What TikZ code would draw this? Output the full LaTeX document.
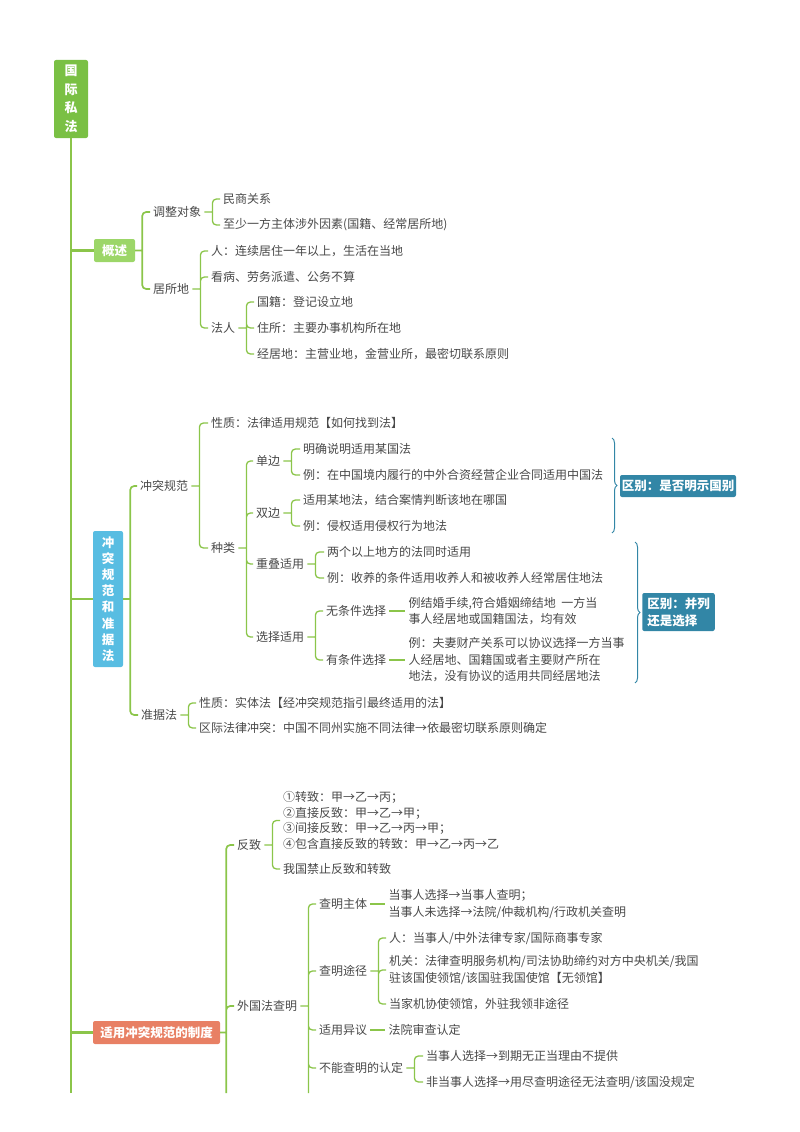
\documentclass[tikz,border=0pt]{standalone}
\usepackage{fontspec}
\setmainfont{Noto Sans CJK SC}
\usetikzlibrary{positioning,decorations.pathreplacing}
\definecolor{lgreen}{RGB}{139,197,74}
\definecolor{rootgreen}{RGB}{122,192,68}
\definecolor{leafgreen}{RGB}{156,214,104}
\definecolor{skyblue}{RGB}{88,189,226}
\definecolor{coral}{RGB}{232,128,100}
\definecolor{difteal}{RGB}{50,134,166}
\definecolor{txtgray}{RGB}{72,72,72}

\begin{document}
\begin{tikzpicture}[x=1pt, y=-1pt,
  txt/.style={anchor=west, inner xsep=3pt, inner ysep=1pt, text=txtgray,
              font=\fontsize{12}{16.5}\selectfont, align=left},
  box/.style={rounded corners=2pt, text=white, inner sep=0pt, align=center,
              font=\fontsize{12.5}{16.2}\selectfont\bfseries},
  diff/.style={box, fill=difteal, align=left},
  trunk/.style={draw=lgreen, line width=2.2pt},
  lnk1/.style={draw=lgreen, line width=1.7pt, rounded corners=4pt},
  lnk/.style={draw=lgreen, line width=1.3pt, rounded corners=4pt},
  brc/.style={draw=difteal, line width=1pt, decorate,
              decoration={brace, amplitude=5pt}}]
  \useasboundingbox (0,0) rectangle (800,1132);

  % root and main trunk
  \node[box, fill=rootgreen, minimum width=34pt, minimum height=78pt,
        font=\fontsize{13}{18.5}\selectfont\bfseries] (root) at (71,99) {国\\际\\私\\法};
  \coordinate (trunkend) at (71,1093);
  \draw[trunk] (root.south) -- (trunkend);

  % 概述
  \node[box, fill=leafgreen, minimum width=41pt, minimum height=23pt] (gs) at (114.5,250.5) {概述};
  \node[txt] (tz)  at (150,212) {调整对象};
  \node[txt] (jsd) at (150,289) {居所地};
  \node[txt] (ms)  at (220,199) {民商关系};
  \node[txt] (sw)  at (220,225) {至少一方主体涉外因素(国籍、经常居所地)};
  \node[txt] (ren) at (208,251) {人：连续居住一年以上，生活在当地};
  \node[txt] (kb)  at (208,277) {看病、劳务派遣、公务不算};
  \node[txt] (fr)  at (208,328) {法人};
  \node[txt] (gj)  at (254,302) {国籍：登记设立地};
  \node[txt] (zs)  at (254,328) {住所：主要办事机构所在地};
  \node[txt] (jj)  at (254,354) {经居地：主营业地，金营业所，最密切联系原则};

  \coordinate (jgs) at ([xshift=7pt]gs.east);
  \coordinate (jtz) at ([xshift=8pt]tz.east);
  \coordinate (jjsd) at ([xshift=8pt]jsd.east);
  \coordinate (jfr) at ([xshift=8pt]fr.east);
  \draw[trunk] (gs.west -| root.south) -- (gs.west);
  \draw[lnk1] (gs.east) -- (jgs) (jgs) |- (tz.west) (jgs) |- (jsd.west);
  \draw[lnk] (tz.east) -- (jtz) (jtz) |- (ms.west) (jtz) |- (sw.west);
  \draw[lnk] (jsd.east) -- (jjsd) (jjsd) |- (ren.west) (jjsd) |- (kb.west) (jjsd) |- (fr.west);
  \draw[lnk] (fr.east) -- (jfr) (jfr) |- (gj.west) (jfr) |- (zs.west) (jfr) |- (jj.west);

  % 冲突规范和准据法
  \node[box, fill=skyblue, minimum width=30pt, minimum height=136pt] (ct) at (108,599)
       {冲\\突\\规\\范\\和\\准\\据\\法};
  \node[txt] (ctgf) at (137,486) {冲突规范};
  \node[txt] (zjf)  at (138,715) {准据法};
  \node[txt] (xz1)  at (208,423) {性质：法律适用规范【如何找到法】};
  \node[txt] (zl)   at (208,548) {种类};
  \node[txt] (db)   at (253,461) {单边};
  \node[txt] (sb)   at (253,513) {双边};
  \node[txt] (cd)   at (253,564) {重叠适用};
  \node[txt] (xzsy) at (253,637) {选择适用};
  \node[txt] (db1)  at (300,449) {明确说明适用某国法};
  \node[txt] (db2)  at (300,475) {例：在中国境内履行的中外合资经营企业合同适用中国法};
  \node[txt] (sb1)  at (300,500) {适用某地法，结合案情判断该地在哪国};
  \node[txt] (sb2)  at (300,526) {例：侵权适用侵权行为地法};
  \node[txt] (cd1)  at (324,552) {两个以上地方的法同时适用};
  \node[txt] (cd2)  at (324,578) {例：收养的条件适用收养人和被收养人经常居住地法};
  \node[txt] (wtj)  at (323,611) {无条件选择};
  \node[txt] (ytj)  at (323,660) {有条件选择};
  \node[txt, right=16pt of wtj] (wtj1)
       {例结婚手续,符合婚姻缔结地\ \ 一方当\\事人经居地或国籍国法，均有效};
  \node[txt, right=16pt of ytj] (ytj1)
       {例：夫妻财产关系可以协议选择一方当事\\人经居地、国籍国或者主要财产所在\\地法，没有协议的适用共同经居地法};
  \node[txt] (zj1)  at (196,703) {性质：实体法【经冲突规范指引最终适用的法】};
  \node[txt] (zj2)  at (196,728) {区际法律冲突：中国不同州实施不同法律→依最密切联系原则确定};

  \coordinate (jct)  at ([xshift=7pt]ct.east);
  \coordinate (jctgf) at ([xshift=8pt]ctgf.east);
  \coordinate (jzl)  at ([xshift=8pt]zl.east);
  \coordinate (jdb)  at ([xshift=8pt]db.east);
  \coordinate (jsb)  at ([xshift=8pt]sb.east);
  \coordinate (jcd)  at ([xshift=8pt]cd.east);
  \coordinate (jxzsy) at ([xshift=8pt]xzsy.east);
  \coordinate (jzjf) at ([xshift=8pt]zjf.east);
  \draw[trunk] (ct.west -| root.south) -- (ct.west);
  \draw[lnk1] (ct.east) -- (jct) (jct) |- (ctgf.west) (jct) |- (zjf.west);
  \draw[lnk] (ctgf.east) -- (jctgf) (jctgf) |- (xz1.west) (jctgf) |- (zl.west);
  \draw[lnk] (zl.east) -- (jzl) (jzl) |- (db.west) (jzl) |- (sb.west)
             (jzl) |- (cd.west) (jzl) |- (xzsy.west);
  \draw[lnk] (db.east) -- (jdb) (jdb) |- (db1.west) (jdb) |- (db2.west);
  \draw[lnk] (sb.east) -- (jsb) (jsb) |- (sb1.west) (jsb) |- (sb2.west);
  \draw[lnk] (cd.east) -- (jcd) (jcd) |- (cd1.west) (jcd) |- (cd2.west);
  \draw[lnk] (xzsy.east) -- (jxzsy) (jxzsy) |- (wtj.west) (jxzsy) |- (ytj.west);
  \draw[lnk] (wtj.east) -- (wtj1.west);
  \draw[lnk] (ytj.east) -- (ytj1.west);
  \draw[lnk] (zjf.east) -- (jzjf) (jzjf) |- (zj1.west) (jzjf) |- (zj2.west);

  % summaries
  \coordinate (b1t) at (612,438);
  \coordinate (b1b) at (612,533);
  \coordinate (b2t) at (635,542);
  \coordinate (b2b) at (635,683);
  \draw[brc] (b1t) -- (b1b);
  \draw[brc] (b2t) -- (b2b);
  \node[diff, minimum width=116pt, minimum height=22pt] (sm1) at (678,486) {区别：是否明示国别};
  \node[diff, minimum width=71pt, minimum height=38pt, inner xsep=5pt,
        font=\fontsize{12.5}{17}\selectfont\bfseries] (sm2) at (678.5,612) {区别：并列\\还是选择};

  % 适用冲突规范的制度
  \node[box, fill=coral, minimum width=127pt, minimum height=23pt] (zd) at (156.5,1032.5) {适用冲突规范的制度};
  \node[txt] (fz)   at (234,845) {反致};
  \node[txt] (wgf)  at (234,1006) {外国法查明};
  \node[txt, font=\fontsize{12}{15.7}\selectfont] (fzl) at (280,820.5)
       {①转致：甲→乙→丙；\\②直接反致：甲→乙→甲；\\③间接反致：甲→乙→丙→甲；\\④包含直接反致的转致：甲→乙→丙→乙};
  \node[txt] (jz)   at (280,869) {我国禁止反致和转致};
  \node[txt] (cmzt) at (316,904) {查明主体};
  \node[txt] (cmtj) at (316,971) {查明途径};
  \node[txt] (syyy) at (316,1030) {适用异议};
  \node[txt] (bnrd) at (316,1068) {不能查明的认定};
  \node[txt, right=15pt of cmzt] (cmzt1)
       {当事人选择→当事人查明；\\当事人未选择→法院/仲裁机构/行政机关查明};
  \node[txt] (cmr)  at (386,938) {人：当事人/中外法律专家/国际商事专家};
  \node[txt] (cmjg) at (386,970)
       {机关：法律查明服务机构/司法协助缔约对方中央机关/我国\\驻该国使领馆/该国驻我国使馆【无领馆】};
  \node[txt] (cmdj) at (386,1004) {当家机协使领馆，外驻我领非途径};
  \node[txt, right=15pt of syyy] (fysc) {法院审查认定};
  \node[txt] (bn1)  at (423,1056) {当事人选择→到期无正当理由不提供};
  \node[txt] (bn2)  at (423,1082) {非当事人选择→用尽查明途径无法查明/该国没规定};

  \coordinate (jzd)  at ([xshift=6pt]zd.east);
  \coordinate (jfz)  at ([xshift=8pt]fz.east);
  \coordinate (jwgf) at ([xshift=8pt]wgf.east);
  \coordinate (jcmtj) at ([xshift=8pt]cmtj.east);
  \coordinate (jbnrd) at ([xshift=8pt]bnrd.east);
  \draw[trunk] (zd.west -| root.south) -- (zd.west);
  \draw[lnk1] (zd.east) -- (jzd) (jzd) |- (fz.west) (jzd) |- (wgf.west) (jzd) -- (jzd |- trunkend);
  \draw[lnk] (fz.east) -- (jfz) (jfz) |- (fzl.west) (jfz) |- (jz.west);
  \draw[lnk] (wgf.east) -- (jwgf) (jwgf) |- (cmzt.west) (jwgf) |- (cmtj.west)
             (jwgf) |- (syyy.west) (jwgf) |- (bnrd.west) (jwgf) -- (jwgf |- trunkend);
  \draw[lnk] (cmzt.east) -- (cmzt1.west);
  \draw[lnk] (cmtj.east) -- (jcmtj) (jcmtj) |- (cmr.west) (jcmtj) |- (cmjg.west) (jcmtj) |- (cmdj.west);
  \draw[lnk] (syyy.east) -- (fysc.west);
  \draw[lnk] (bnrd.east) -- (jbnrd) (jbnrd) |- (bn1.west) (jbnrd) |- (bn2.west);
\end{tikzpicture}
\end{document}
